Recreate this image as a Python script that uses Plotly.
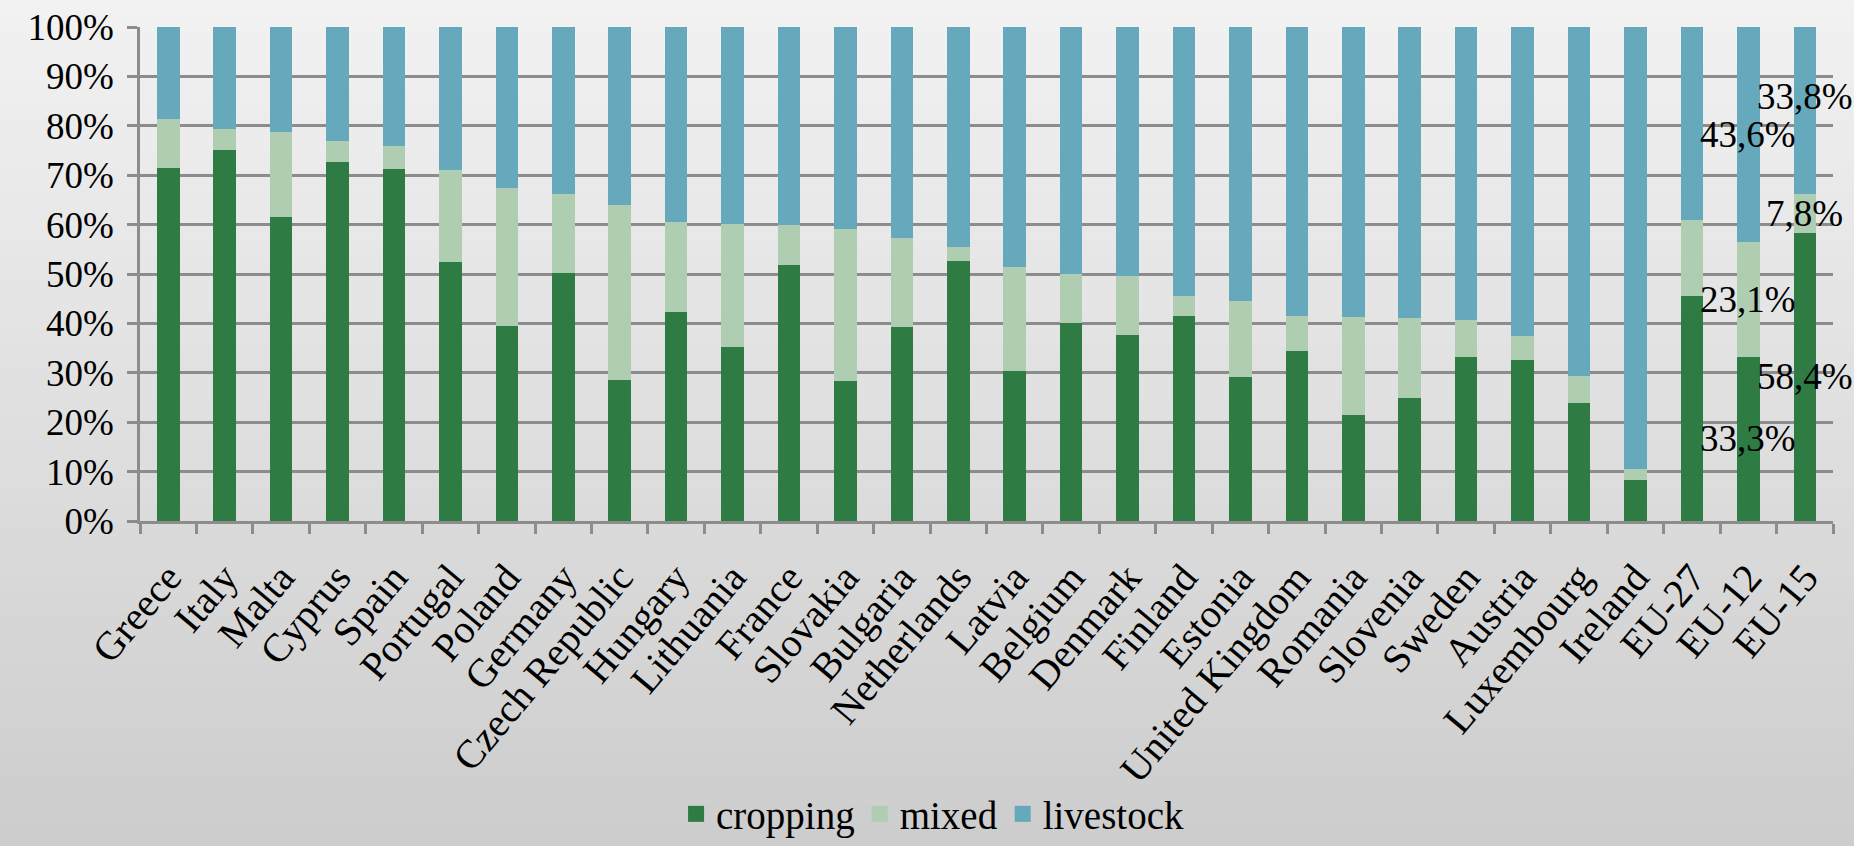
import plotly.graph_objects as go

countries = ["Greece", "Italy", "Malta", "Cyprus", "Spain", "Portugal", "Poland", "Germany",
             "Czech Republic", "Hungary", "Lithuania", "France", "Slovakia", "Bulgaria",
             "Netherlands", "Latvia", "Belgium", "Denmark", "Finland", "Estonia",
             "United Kingdom", "Romania", "Slovenia", "Sweden", "Austria", "Luxembourg",
             "Ireland", "EU-27", "EU-12", "EU-15"]

cropping = [71.4, 75.1, 61.5, 72.7, 71.3, 52.5, 39.5, 50.3, 28.6, 42.4, 35.2, 51.8, 28.4, 39.2,
            52.7, 30.3, 40.0, 37.6, 41.5, 29.1, 34.4, 21.5, 25.0, 33.3, 32.6, 23.8, 8.2, 45.5,
            33.3, 58.4]
mixed = [9.9, 4.3, 17.2, 4.2, 4.7, 18.6, 28.0, 15.8, 35.4, 18.2, 25.0, 8.1, 30.7, 18.0,
         2.7, 21.1, 10.0, 11.9, 4.1, 15.4, 7.1, 19.8, 16.0, 7.3, 4.9, 5.5, 2.3, 15.5,
         23.1, 7.8]
livestock = [18.7, 20.6, 21.3, 23.1, 24.0, 28.9, 32.5, 33.9, 36.0, 39.4, 39.8, 40.1, 40.9, 42.8,
             44.6, 48.6, 50.0, 50.5, 54.4, 55.5, 58.5, 58.7, 59.0, 59.4, 62.5, 70.7, 89.5, 39.0,
             43.6, 33.8]

y_ticks = list(range(0, 101, 10))
y_tick_text = [f"{v}%" for v in y_ticks]

labelled = ["EU-12", "EU-15"]

series = [("cropping", cropping, "#2e7b43"),
          ("mixed", mixed, "#afcdb0"),
          ("livestock", livestock, "#66a8bc")]

FONT = "Liberation Serif"
FS = 37
GRID = "#8c8c8c"

fig = go.Figure()
for name, vals, col in series:
    fig.add_trace(go.Bar(x=countries, y=vals, name=name, marker_color=col,
                         marker_line_width=0, showlegend=False, legendgroup=name))
# legend entries with larger square swatches
for name, vals, col in series:
    fig.add_trace(go.Scatter(x=[None], y=[None], mode="markers", name=name,
                             legendgroup=name,
                             marker=dict(symbol="square", size=16, color=col,
                                         line_width=0)))

# data labels for the EU-12 / EU-15 bars, centred in each segment
for cat in labelled:
    i = countries.index(cat)
    base = 0.0
    for name, vals, col in series:
        v = vals[i]
        mid = base + v / 2
        shift = 14 if (cat == "EU-15" and name == "livestock") else 0
        fig.add_annotation(x=cat, y=mid, text=f"{v:.1f}".replace(".", ",") + "%",
                           showarrow=False, yshift=shift,
                           font=dict(family=FONT, size=FS, color="black"))
        base += v

# background gradient (light at top, darker at bottom)
n = 48
top = (242, 242, 242)
bot = (205, 205, 205)
H = 494.0
shapes = []
for k in range(n):
    t = k / (n - 1)
    c = tuple(int(round(top[j] + (bot[j] - top[j]) * t)) for j in range(3))
    y1 = 1 + 27 / H - k * (846 / H) / n + 0.01
    y0 = y1 - (846 / H) / n - 0.012
    shapes.append(dict(type="rect", xref="paper", yref="paper", x0=-0.2, x1=1.1,
                       y0=y0, y1=y1, fillcolor="rgb(%d,%d,%d)" % c,
                       line_width=0, layer="below"))

fig.update_layout(
    width=1854, height=846,
    margin=dict(l=140, r=21, t=27, b=325, autoexpand=False),
    barmode="stack", bargap=0.6,
    paper_bgcolor="#dcdcdc", plot_bgcolor="rgba(0,0,0,0)",
    font=dict(family=FONT, size=FS, color="black"),
    shapes=shapes,
    showlegend=True,
    legend=dict(orientation="h", xref="container", yref="container",
                x=0.503, xanchor="center", y=0.0, yanchor="bottom",
                font=dict(family=FONT, size=39), bgcolor="rgba(0,0,0,0)",
                traceorder="normal", itemsizing="trace", itemwidth=30),
)
fig.update_xaxes(type="category", range=[-0.5, len(countries) - 0.5],
                 tickangle=-50, tickson="boundaries", automargin=False,
                 ticklabelstandoff=14,
                 ticks="outside", ticklen=10, tickwidth=2.5, tickcolor=GRID,
                 showline=True, linecolor=GRID, linewidth=2.5,
                 tickfont=dict(family=FONT, size=40), showgrid=False)
fig.update_yaxes(range=[0, 100], tickmode="array", tickvals=y_ticks, ticktext=y_tick_text,
                 automargin=False, ticklabelstandoff=6,
                 showgrid=True, gridcolor=GRID, gridwidth=2.5,
                 ticks="outside", ticklen=10, tickwidth=2.5, tickcolor=GRID,
                 showline=True, linecolor=GRID, linewidth=2.5, zeroline=False,
                 tickfont=dict(family=FONT, size=FS))

fig.write_html("out.html", config={"displayModeBar": False},
               post_script="document.body.style.margin='0';document.body.style.overflow='hidden';")
